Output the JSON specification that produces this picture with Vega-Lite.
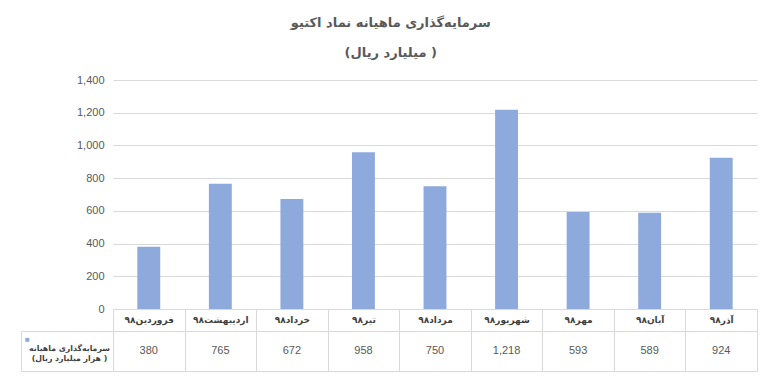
{
  "$schema": "https://vega.github.io/schema/vega-lite/v6.json",
  "padding": {"left": 20, "top": 17, "right": 10, "bottom": 5},
  "background": "white",
  "title": {
    "text": ["سرمایه‌گذاری ماهیانه نماد اکتیو", "(میلیارد ریال )"],
    "font": "DejaVu Sans",
    "fontSize": 13,
    "fontWeight": "bold",
    "color": "#595959",
    "lineHeight": 30,
    "anchor": "middle",
    "dx": 2,
    "offset": 14
  },
  "data": {
    "values": [
      {"month": "فروردین۹۸", "value": 380, "series": "سرمایه‌گذاری ماهیانه|(هزار میلیارد ریال )"},
      {"month": "اردیبهشت۹۸", "value": 765, "series": "سرمایه‌گذاری ماهیانه|(هزار میلیارد ریال )"},
      {"month": "خرداد۹۸", "value": 672, "series": "سرمایه‌گذاری ماهیانه|(هزار میلیارد ریال )"},
      {"month": "تیر۹۸", "value": 958, "series": "سرمایه‌گذاری ماهیانه|(هزار میلیارد ریال )"},
      {"month": "مرداد۹۸", "value": 750, "series": "سرمایه‌گذاری ماهیانه|(هزار میلیارد ریال )"},
      {"month": "شهریور۹۸", "value": 1218, "series": "سرمایه‌گذاری ماهیانه|(هزار میلیارد ریال )"},
      {"month": "مهر۹۸", "value": 593, "series": "سرمایه‌گذاری ماهیانه|(هزار میلیارد ریال )"},
      {"month": "آبان۹۸", "value": 589, "series": "سرمایه‌گذاری ماهیانه|(هزار میلیارد ریال )"},
      {"month": "آذر۹۸", "value": 924, "series": "سرمایه‌گذاری ماهیانه|(هزار میلیارد ریال )"}
    ]
  },
  "bounds": "flush",
  "spacing": 22,
  "vconcat": [
    {
      "width": 644,
      "height": 229,
      "view": {"stroke": null},
      "mark": {"type": "bar", "width": {"band": 0.32}, "color": "#8EA9DB"},
      "encoding": {
        "x": {
          "field": "month", "type": "nominal", "sort": null,
          "scale": {"paddingInner": 0, "paddingOuter": 0},
          "axis": {
            "title": null, "labelAngle": 0, "tickBand": "extent", "tickSize": 22,
            "tickColor": "#d9d9d9", "domainColor": "#d9d9d9", "labelPadding": -16,
            "labelFont": "DejaVu Sans", "labelFontWeight": "bold", "labelFontSize": 9,
            "labelColor": "#404040", "grid": false
          }
        },
        "y": {
          "field": "value", "type": "quantitative",
          "scale": {"domain": [0, 1400]},
          "axis": {
            "values": [0, 200, 400, 600, 800, 1000, 1200, 1400],
            "format": ",d", "title": null, "domain": false, "ticks": false,
            "labelPadding": 9, "gridColor": "#d9d9d9", "labelColor": "#595959",
            "labelFontSize": 11, "labelFont": "Liberation Sans"
          }
        }
      }
    },
    {
      "width": 644,
      "height": 40,
      "view": {"stroke": "#d9d9d9"},
      "mark": {"type": "text", "font": "Liberation Sans", "fontSize": 11, "color": "#595959"},
      "encoding": {
        "x": {
          "field": "month", "type": "nominal", "sort": null,
          "scale": {"paddingInner": 0, "paddingOuter": 0},
          "axis": {
            "title": null, "labels": false, "ticks": false, "domain": false,
            "grid": true, "tickBand": "extent", "gridColor": "#d9d9d9"
          }
        },
        "y": {
          "field": "series", "type": "nominal",
          "axis": {
            "title": "■", "titleColor": "#8EA9DB", "titleFontSize": 8, "titleAngle": 0,
            "titleX": 6, "titleY": 8, "titleAlign": "center", "titleBaseline": "middle",
            "labelExpr": "split(datum.label, '|')",
            "offset": 92, "domainColor": "#d9d9d9", "tickColor": "#d9d9d9",
            "tickSize": -92, "tickBand": "extent", "labelPadding": 44, "labelAlign": "center",
            "labelOffset": -3,
            "labelFont": "DejaVu Sans", "labelFontWeight": "bold", "labelFontSize": 7.8,
            "labelColor": "#404040", "labelLineHeight": 10.5, "labelBaseline": "middle",
            "grid": false
          }
        },
        "text": {"field": "value", "type": "quantitative", "format": ","}
      }
    }
  ]
}
